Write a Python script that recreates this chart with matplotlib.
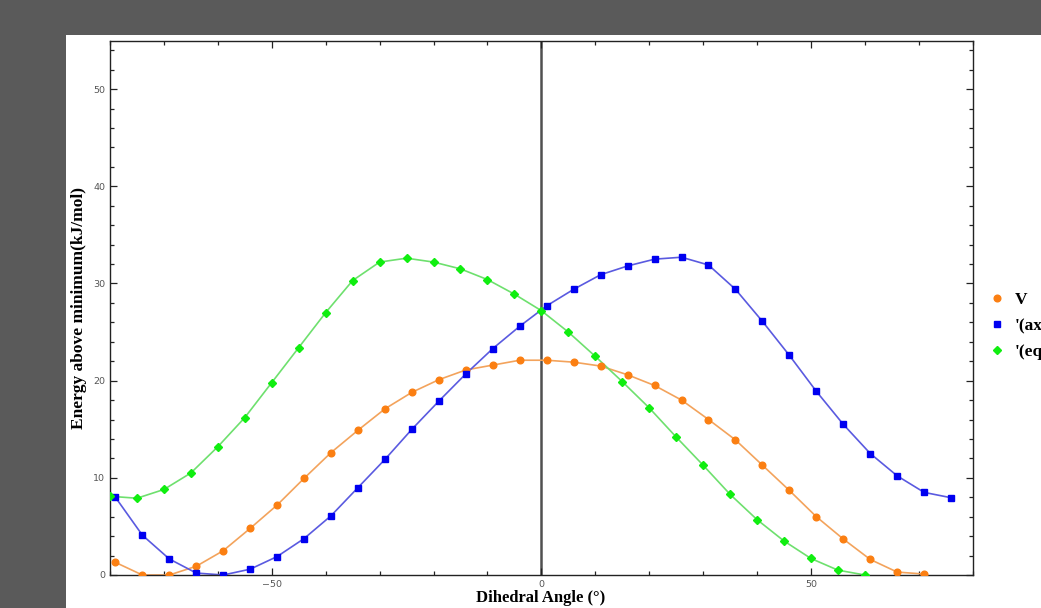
import matplotlib
matplotlib.use('Agg')
import matplotlib.pyplot as plt
from matplotlib.lines import Line2D
from matplotlib.patches import Rectangle
from matplotlib.ticker import MultipleLocator

# V 曲线 (橙色)
v_angle = [-79, -74, -69, -64, -59, -54, -49, -44, -39, -34, -29, -24, -19, -14, -9, -4,
           1, 6, 11, 16, 21, 26, 31, 36, 41, 46, 51, 56, 61, 66, 71]
v_energy = [1.3, 0.0, 0.0, 0.9, 2.5, 4.8, 7.2, 9.95, 12.6, 14.9, 17.1, 18.8, 20.1, 21.1, 21.6, 22.1,
            22.1, 21.9, 21.5, 20.6, 19.5, 18.0, 16.0, 13.9, 11.3, 8.7, 6.0, 3.7, 1.6, 0.3, 0.1]

# '(ax) 曲线 (蓝色)
ax_angle = [-79, -74, -69, -64, -59, -54, -49, -44, -39, -34, -29, -24, -19, -14, -9, -4,
            1, 6, 11, 16, 21, 26, 31, 36, 41, 46, 51, 56, 61, 66, 71, 76]
ax_energy = [8.0, 4.1, 1.65, 0.2, 0.0, 0.6, 1.9, 3.75, 6.1, 9.0, 11.9, 15.0, 17.9, 20.7, 23.3, 25.6,
             27.7, 29.4, 30.9, 31.8, 32.5, 32.7, 31.9, 29.4, 26.1, 22.6, 18.9, 15.5, 12.5, 10.2, 8.5, 7.95]

# '(eq) 曲线 (绿色)
eq_angle = [-80, -75, -70, -65, -60, -55, -50, -45, -40, -35, -30, -25, -20, -15, -10, -5,
            0, 5, 10, 15, 20, 25, 30, 35, 40, 45, 50, 55, 60]
eq_energy = [8.1, 7.9, 8.8, 10.5, 13.2, 16.2, 19.8, 23.4, 27.0, 30.3, 32.2, 32.6, 32.2, 31.5, 30.4, 28.9,
             27.2, 25.0, 22.5, 19.9, 17.2, 14.2, 11.3, 8.3, 5.7, 3.5, 1.7, 0.5, 0.0]

labels = ['V', "'(ax", "'(eq"]

fig = plt.figure(figsize=(10.41, 6.08), dpi=100, facecolor='#5a5a5a')
# 白色画布区域
fig.patches.append(Rectangle((66 / 1041, 0), 1, 1 - 35 / 608, transform=fig.transFigure,
                             facecolor='white', edgecolor='none', zorder=-10))

ax = fig.add_axes([110 / 1041, 1 - 575 / 608, 862.7 / 1041, 534.5 / 608])
ax.set_zorder(1)

ax.plot(v_angle, v_energy, color='#f3a35c', lw=1.2, zorder=2)
ax.plot(ax_angle, ax_energy, color='#5a5ae0', lw=1.2, zorder=2)
ax.plot(eq_angle, eq_energy, color='#6ee06e', lw=1.2, zorder=2)
ax.plot(v_angle, v_energy, ls='none', marker='o', ms=4.8, color='#fb7f12', zorder=3)
ax.plot(ax_angle, ax_energy, ls='none', marker='s', ms=4.4, color='#0000f0', zorder=3)
ax.plot(eq_angle, eq_energy, ls='none', marker='D', ms=4.2, color='#10ee10', zorder=3)

ax.axvline(0, color='#505050', lw=1.8, zorder=1)

ax.set_xlim(-80, 80)
ax.set_ylim(0, 55)
ax.xaxis.set_major_locator(MultipleLocator(50))
ax.xaxis.set_minor_locator(MultipleLocator(10))
ax.yaxis.set_major_locator(MultipleLocator(10))
ax.yaxis.set_minor_locator(MultipleLocator(2))
ax.tick_params(which='both', direction='in', top=True, right=True, colors='#222222',
               labelcolor='#555555', labelsize=6.8, width=0.9)
ax.tick_params(which='major', length=5)
ax.tick_params(which='minor', length=3)
ax.set_xticks([-50, 0, 50])
ax.set_xticklabels(['\u221250', '0', '50'])
for s in ax.spines.values():
    s.set_color('#222222')
    s.set_linewidth(1.0)

ax.set_ylabel('Energy above minimum(kJ/mol)', family='Liberation Serif', fontweight='bold',
              fontsize=12.5, labelpad=4)
fig.text(541 / 1041, 2 / 608, 'Dihedral Angle (\u00b0)', family='Liberation Serif',
         fontweight='bold', fontsize=12, ha='center', va='bottom')

handles = [Line2D([], [], ls='none', marker='o', ms=4.8, color='#fb7f12'),
           Line2D([], [], ls='none', marker='s', ms=4.4, color='#0000f0'),
           Line2D([], [], ls='none', marker='D', ms=4.2, color='#10ee10')]
ax.legend(handles, labels, loc='center left', bbox_to_anchor=(1.0, 0.466), frameon=False,
          handlelength=1.0, handletextpad=0.5, labelspacing=0.55,
          prop={'family': 'Liberation Serif', 'weight': 'bold', 'size': 12.5})

fig.savefig('out.png', dpi=100, facecolor=fig.get_facecolor())
